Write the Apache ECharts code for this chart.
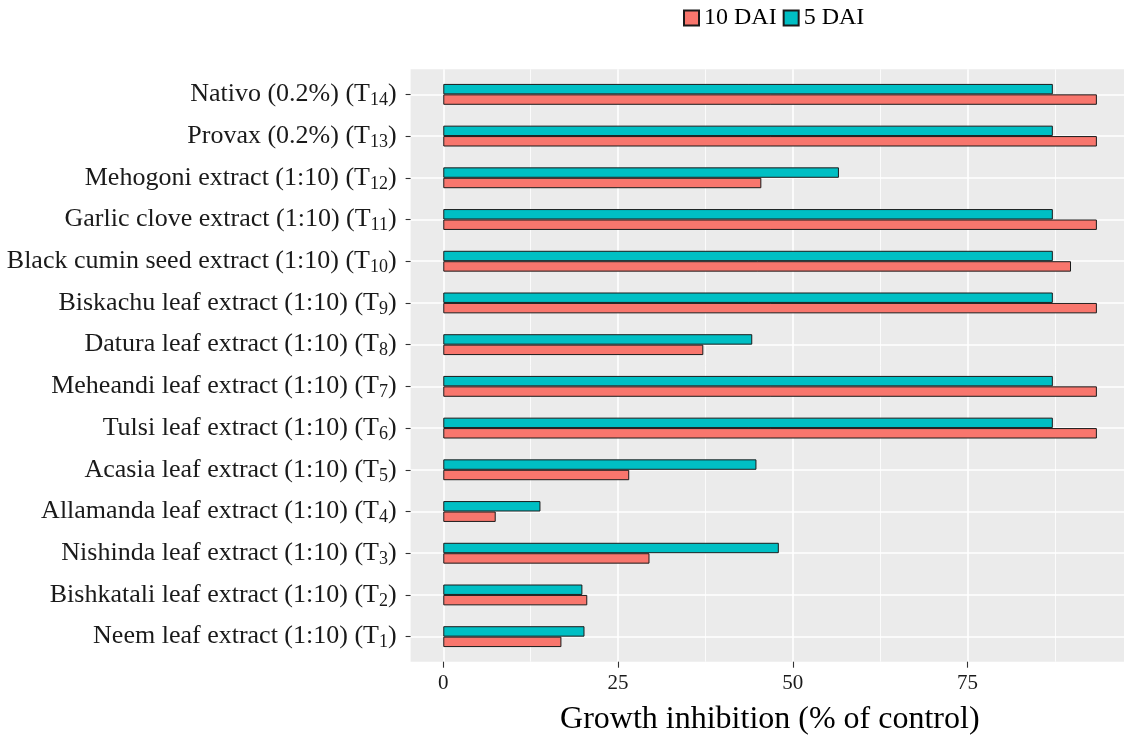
<!DOCTYPE html>
<html>
<head>
<meta charset="utf-8">
<script src="https://cdn.jsdelivr.net/npm/echarts@6/dist/echarts.min.js"></script>
<style>html,body{margin:0;padding:0;background:#fff}#c{width:1124px;height:735px}</style>
</head>
<body>
<div id="c"></div>
<script>
// Treatments, bottom (T1) to top (T14)
const categories = [
  'Neem leaf extract (1:10) (T1)',
  'Bishkatali leaf extract (1:10) (T2)',
  'Nishinda leaf extract (1:10) (T3)',
  'Allamanda leaf extract (1:10) (T4)',
  'Acasia leaf extract (1:10) (T5)',
  'Tulsi leaf extract (1:10) (T6)',
  'Meheandi leaf extract (1:10) (T7)',
  'Datura leaf extract (1:10) (T8)',
  'Biskachu leaf extract (1:10) (T9)',
  'Black cumin seed extract (1:10) (T10)',
  'Garlic clove extract (1:10) (T11)',
  'Mehogoni extract (1:10) (T12)',
  'Provax (0.2%) (T13)',
  'Nativo (0.2%) (T14)'
];
const dai5  = [20.2, 19.9, 48.0, 13.9, 44.8, 87.2, 87.2, 44.2, 87.2, 87.2, 87.2, 56.6, 87.2, 87.2];
const dai10 = [16.9, 20.6, 29.5, 7.5, 26.6, 93.5, 93.5, 37.2, 93.5, 89.8, 93.5, 45.5, 93.5, 93.5];
const majorTicks = [0, 25, 50, 75];
const minorTicks = [12.5, 37.5, 62.5, 87.5];
const xTitle = 'Growth inhibition (% of control)';
const seriesNames = ['10 DAI', '5 DAI'];

const FONT = 'Liberation Serif';
const xMin = -4.675, xMax = 97.38;

const chart = echarts.init(document.getElementById('c'), null, {renderer: 'canvas'});
const option = {
  animation: false,
  backgroundColor: '#ffffff',
  legend: {
    data: seriesNames,
    left: 678, top: 1,
    itemWidth: 15, itemHeight: 15, itemGap: 6,
    icon: 'rect',
    textStyle: {fontFamily: FONT, fontSize: 24, color: '#000'}
  },
  grid: [
    {left: 410.6, right: 0, top: 69.3, bottom: 73.3, show: true, backgroundColor: '#EBEBEB', borderWidth: 0, containLabel: false, outerBoundsMode: 'none'},
    {left: 410.6, right: 0, top: 73.5, bottom: 77.5, show: false, containLabel: false, outerBoundsMode: 'none'}
  ],
  xAxis: [
    {
      gridIndex: 0, type: 'value', min: xMin, max: xMax,
      axisLine: {show: false},
      axisTick: {show: true, customValues: majorTicks, length: 6, lineStyle: {color: '#333333', width: 1.1}},
      axisLabel: {show: true, customValues: majorTicks, fontFamily: FONT, fontSize: 21, color: '#1a1a1a', margin: 11},
      splitLine: {show: true, lineStyle: {color: '#ffffff', width: 1.6}},
      name: xTitle, nameLocation: 'middle', nameGap: 42,
      nameTextStyle: {fontFamily: FONT, fontSize: 32, color: '#000', padding: [0, 0, 0, 5]}
    },
    {
      gridIndex: 0, type: 'value', min: xMin, max: xMax,
      axisLine: {show: false},
      axisTick: {show: false, customValues: minorTicks},
      axisLabel: {show: false, customValues: minorTicks},
      splitLine: {show: true, lineStyle: {color: '#ffffff', width: 0.8}}
    },
    {
      gridIndex: 1, type: 'value', min: xMin, max: xMax, show: false,
      splitLine: {show: false}
    }
  ],
  yAxis: [
    {gridIndex: 0, type: 'value', min: 0, max: 1, show: false, splitLine: {show: false}},
    {
      gridIndex: 1, type: 'category', data: categories,
      axisLine: {show: false, onZero: false},
      axisTick: {show: true, alignWithLabel: true, length: 5, lineStyle: {color: '#333333', width: 1.1}},
      axisLabel: {
        interval: 0, margin: 14,
        formatter: function (v) {
          const m = v.match(/^(.*\(T)(\d+)(\))$/);
          return m ? '{a|' + m[1] + '}{s|' + m[2] + '}{a|' + m[3] + '}' : '{a|' + v + '}';
        },
        rich: {
          a: {fontFamily: FONT, fontSize: 26, color: '#1a1a1a', lineHeight: 30},
          s: {fontFamily: FONT, fontSize: 18, color: '#1a1a1a', lineHeight: 17, verticalAlign: 'bottom'}
        }
      },
      splitLine: {show: true, alignWithLabel: true, interval: 0, lineStyle: {color: '#ffffff', width: 1.6}}
    }
  ],
  series: [
    {
      name: '5 DAI', type: 'bar', xAxisIndex: 2, yAxisIndex: 1, data: dai5,
      barWidth: '25%', barGap: '0%',
      itemStyle: {color: '#00BFC4', borderColor: '#1a1a1a', borderWidth: 1}
    },
    {
      name: '10 DAI', type: 'bar', xAxisIndex: 2, yAxisIndex: 1, data: dai10,
      barWidth: '25%', barGap: '0%',
      itemStyle: {color: '#F8766D', borderColor: '#1a1a1a', borderWidth: 1}
    }
  ]
};
chart.setOption(option);
</script>
</body>
</html>
